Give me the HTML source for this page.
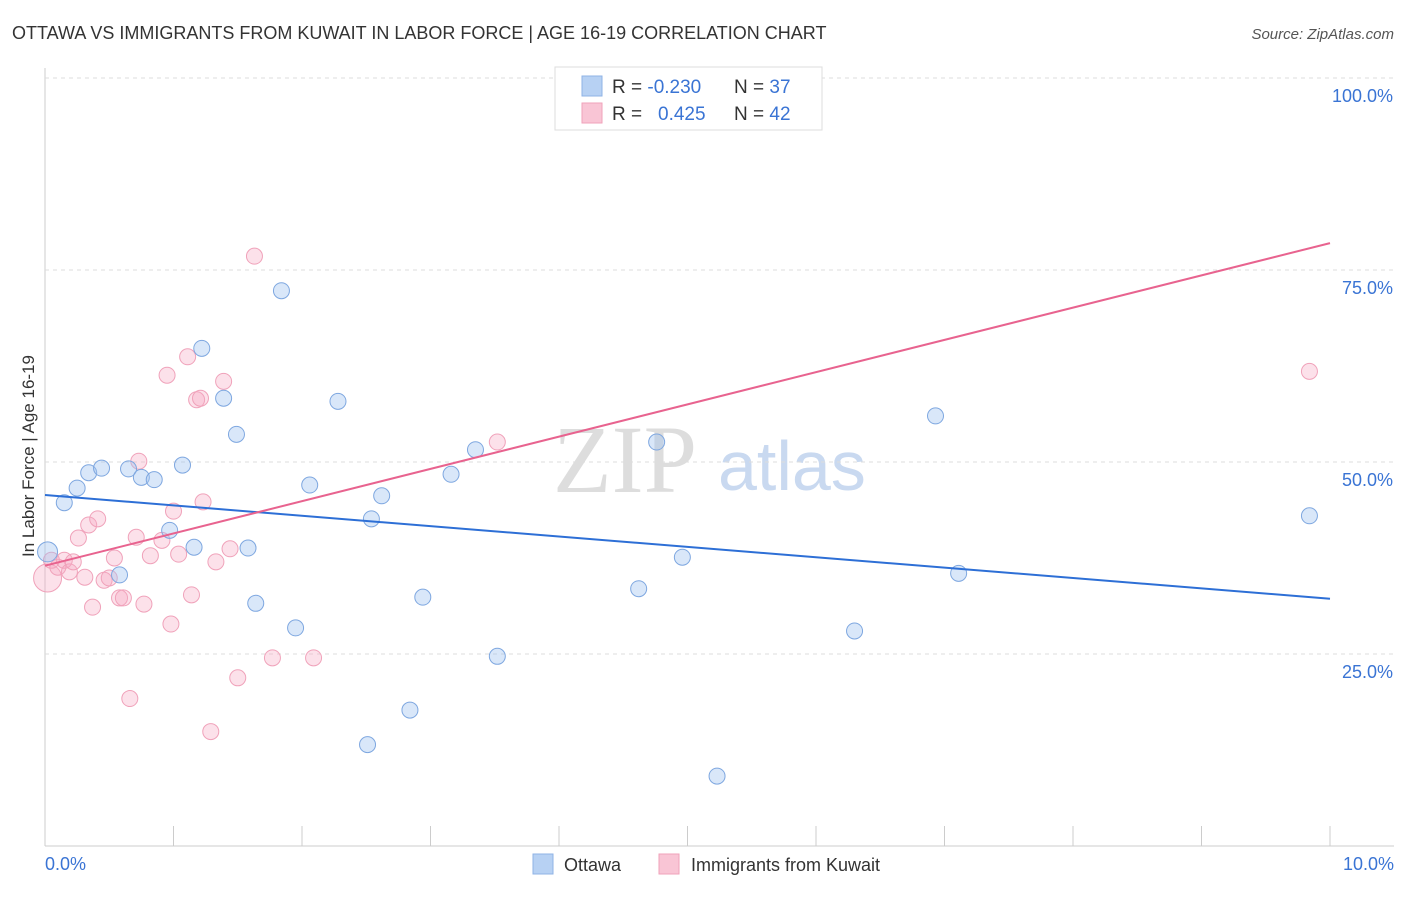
<!DOCTYPE html>
<html><head><meta charset="utf-8"><style>
body{margin:0;background:#fff;font-family:"Liberation Sans",sans-serif;}
</style></head><body>
<svg id="chart" width="1406" height="892" xmlns="http://www.w3.org/2000/svg" font-family="Liberation Sans, sans-serif">
<text x="12" y="39" font-size="18" fill="#333">OTTAWA VS IMMIGRANTS FROM KUWAIT IN LABOR FORCE | AGE 16-19 CORRELATION CHART</text>
<text x="1394" y="39" font-size="15" fill="#555" font-style="italic" text-anchor="end">Source: ZipAtlas.com</text>
<g><text x="553" y="492" font-size="96" fill="#ddd" font-family="Liberation Serif, serif">ZIP</text><text x="718" y="490" font-size="70" fill="#c9d9f0">atlas</text></g>
<text transform="translate(34,456) rotate(-90)" font-size="17" fill="#333" text-anchor="middle">In Labor Force | Age 16-19</text>
<g id="grid"></g><g id="marks"></g>
<g>
<rect x="555" y="67" width="267" height="63" fill="#fff" stroke="#ddd"/>
<rect x="582" y="76" width="20" height="20" fill="#b7d1f3" stroke="#8fb3e6"/>
<rect x="582" y="103" width="20" height="20" fill="#f9c5d5" stroke="#f0a2ba"/>
<text x="612" y="93" font-size="19" fill="#333">R = <tspan fill="#3a74d4">-0.230</tspan></text>
<text x="734" y="93" font-size="19" fill="#333">N = <tspan fill="#3a74d4">37</tspan></text>
<text x="612" y="120" font-size="19" fill="#333">R = </text><text x="658" y="120" font-size="19" fill="#3a74d4">0.425</text>
<text x="734" y="120" font-size="19" fill="#333">N = <tspan fill="#3a74d4">42</tspan></text>
</g>
<g>
<rect x="533" y="854" width="20" height="20" fill="#b7d1f3" stroke="#8fb3e6"/>
<text x="564" y="871" font-size="18" fill="#333">Ottawa</text>
<rect x="659" y="854" width="20" height="20" fill="#f9c5d5" stroke="#f0a2ba"/>
<text x="691" y="871" font-size="18" fill="#333">Immigrants from Kuwait</text>
</g>
</svg>
<script>
const blueX=[0.02,0.15,0.25,0.34,0.44,0.58,0.65,0.75,0.85,0.97,1.07,1.16,1.22,1.39,1.49,1.58,1.64,1.84,1.95,2.06,2.28,2.54,2.62,2.94,3.16,3.35,3.52,2.51,2.84,4.62,4.76,4.96,5.23,6.30,6.93,7.11,9.84];
const blueY=[38.3,44.7,46.6,48.6,49.2,35.3,49.1,48.0,47.7,41.1,49.6,38.9,64.8,58.3,53.6,38.8,31.6,72.3,28.4,47.0,57.9,42.6,45.6,32.4,48.4,51.6,24.7,13.2,17.7,33.5,52.6,37.6,9.1,28.0,56.0,35.5,43.0];
const pinkX=[0.02,0.05,0.10,0.15,0.19,0.22,0.26,0.31,0.34,0.37,0.41,0.46,0.50,0.54,0.58,0.61,0.66,0.71,0.73,0.77,0.82,0.91,0.95,0.98,1.00,1.04,1.11,1.14,1.18,1.21,1.23,1.29,1.33,1.39,1.44,1.50,1.63,1.77,2.09,3.52,4.13,9.84];
const pinkY=[34.9,37.2,36.3,37.2,35.7,37.0,40.1,35.0,41.8,31.1,42.6,34.6,34.9,37.5,32.3,32.3,19.2,40.2,50.1,31.5,37.8,39.8,61.3,28.9,43.6,38.0,63.7,32.7,58.1,58.3,44.8,14.9,37.0,60.5,38.7,21.9,76.8,24.5,24.5,52.6,99.7,61.8];
const xTicks=[0,1,2,3,4,5,6,7,8,9,10];
const yTicks=[25,50,75,100];
const yTickLabels=["25.0%","50.0%","75.0%","100.0%"];
const blueLine=[45.7,32.2];
const pinkLine=[36.5,78.5];
const X=v=>45+v*128.5, Y=v=>846-v*7.68;
const NS="http://www.w3.org/2000/svg";
function mk(p,t,a){const e=document.createElementNS(NS,t);for(const k in a)e.setAttribute(k,a[k]);p.appendChild(e);return e;}
const g=document.getElementById('grid'), m=document.getElementById('marks');
let ax=mk(g,'line',{x1:45,y1:68,x2:45,y2:846,stroke:'#ccc'});


let bx=mk(g,'line',{x1:45,y1:846,x2:1394,y2:846,stroke:'#ccc'});


xTicks.forEach(t=>{const l=mk(g,'line',{x1:X(t),y1:826,x2:X(t),y2:846,stroke:'#ccc'});

});
let t0=mk(g,'text',{x:45,y:870,'font-size':18,fill:'#3a74d4'});t0.textContent='0.0%';


let t1=mk(g,'text',{x:1394,y:870,'font-size':18,fill:'#3a74d4','text-anchor':'end'});t1.textContent='10.0%';


yTicks.forEach((t,i)=>{const l=mk(g,'line',{x1:45,y1:Y(t),x2:1394,y2:Y(t),stroke:'#ddd','stroke-dasharray':'4,4'});


const tx=mk(g,'text',{x:1393,y:Y(t)+24,'font-size':18,fill:'#3a74d4','text-anchor':'end'});tx.textContent=yTickLabels[i];

});
pinkX.forEach((x,i)=>{const c=mk(m,'circle',{cx:X(x),cy:Y(pinkY[i]),r:i==0?14:8,fill:'rgba(246,170,195,0.35)',stroke:'#f0a2ba','stroke-width':1});

});
blueX.forEach((x,i)=>{const c=mk(m,'circle',{cx:X(x),cy:Y(blueY[i]),r:i==0?10:8,fill:'rgba(160,195,240,0.4)',stroke:'#7ea7e0','stroke-width':1});

});
let bl=mk(m,'line',{x1:X(0),y1:Y(blueLine[0]),x2:X(10),y2:Y(blueLine[1]),stroke:'#2d6fd6','stroke-width':2});


let pl=mk(m,'line',{x1:X(0),y1:Y(pinkLine[0]),x2:X(10),y2:Y(pinkLine[1]),stroke:'#e8638f','stroke-width':2});


</script>
</body></html>
